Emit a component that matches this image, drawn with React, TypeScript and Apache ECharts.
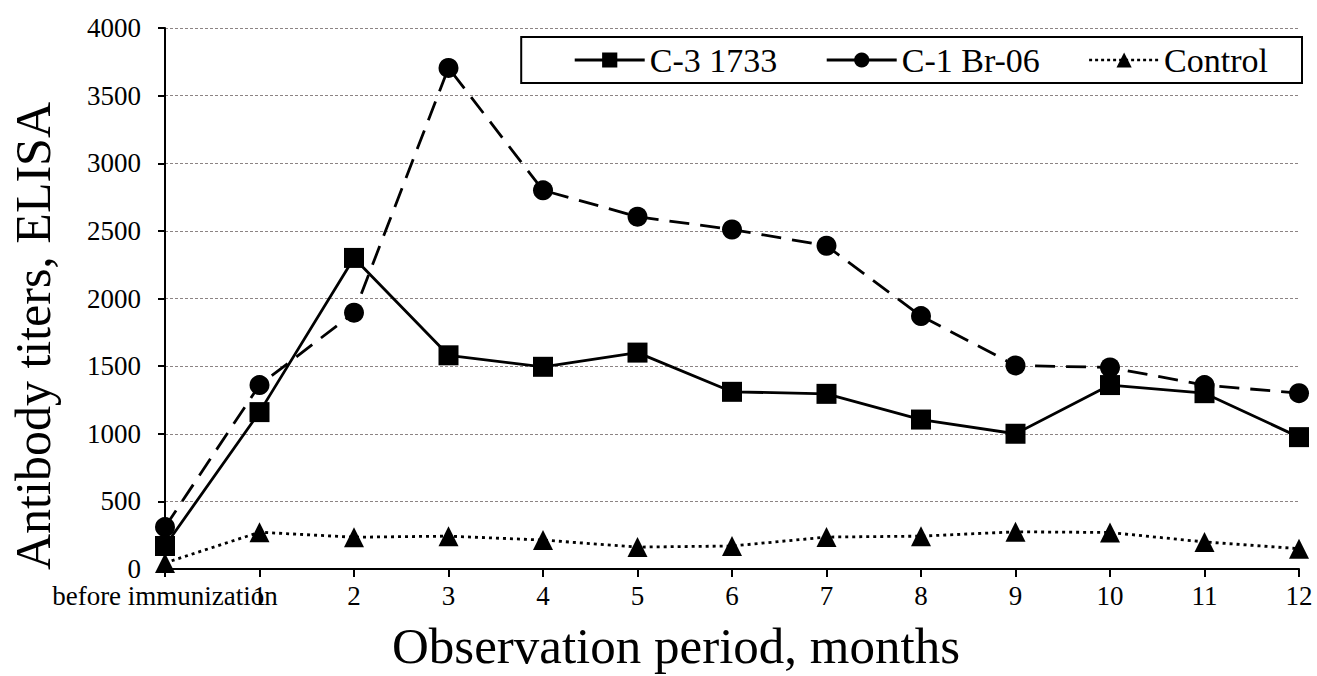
import React, { useEffect, useRef } from "react";
import * as echarts from "echarts";

const categories = ["before immunization", "1", "2", "3", "4", "5", "6", "7", "8", "9", "10", "11", "12"];
const seriesC3 = [170, 1160, 2300, 1580, 1495, 1600, 1310, 1295, 1105, 1000, 1360, 1300, 975];
const seriesC1 = [310, 1360, 1895, 3705, 2800, 2605, 2510, 2390, 1870, 1505, 1490, 1360, 1300];
const seriesControl = [45, 272, 235, 243, 214, 162, 170, 236, 243, 275, 270, 200, 150];
const yTicks = { min: 0, max: 4000, interval: 500 };
const xTitle = "Observation period, months";
const yTitle = "Antibody titers, ELISA";

const FONT = "Liberation Serif";

export default function App() {
  const ref = useRef<HTMLDivElement>(null);
  useEffect(() => {
    if (!ref.current) return;
    const chart = echarts.init(ref.current, undefined, { renderer: "svg" });
    chart.setOption({
      animation: false,
      backgroundColor: "#ffffff",
      textStyle: { fontFamily: FONT },
      grid: { left: 165, right: 18, top: 28, bottom: 107, containLabel: false },
      legend: {
        top: 37,
        right: 15,
        orient: "horizontal",
        itemWidth: 70,
        itemHeight: 19,
        itemGap: 48,
        padding: [6, 34, 6, 52],
        borderColor: "#000",
        borderWidth: 2,
        backgroundColor: "#fff",
        textStyle: { fontFamily: FONT, fontSize: 34, color: "#000" },
        data: [
          { name: "C-3 1733", lineStyle: { type: "solid", width: 3, color: "#000" } },
          { name: "C-1 Br-06", lineStyle: { type: "solid", width: 3, color: "#000" } },
          { name: "Control", lineStyle: { type: [3, 3], width: 2.5, color: "#000" } },
        ],
      },
      xAxis: {
        type: "category",
        data: categories,
        boundaryGap: false,
        axisLine: { lineStyle: { color: "#000", width: 2 } },
        axisTick: { show: true, length: 8, inside: false, alignWithLabel: true, interval: 0, lineStyle: { color: "#000", width: 2 } },
        axisLabel: { interval: 0, color: "#000", fontSize: 27, fontFamily: FONT, margin: 13 },
        splitLine: { show: false },
      },
      yAxis: {
        type: "value",
        min: yTicks.min,
        max: yTicks.max,
        interval: yTicks.interval,
        axisLine: { show: true, lineStyle: { color: "#000", width: 2 } },
        axisTick: { show: true, length: 7, lineStyle: { color: "#000", width: 2 } },
        axisLabel: {
          color: "#000",
          margin: 24,
          fontSize: 27,
          fontFamily: FONT,
          formatter: (v: number) => String(v),
        },
        splitLine: { show: true, lineStyle: { color: "#8c8484", width: 1, type: [3, 2] } },
      },
      graphic: [
        {
          type: "text",
          x: 676,
          y: 646,
          style: { text: xTitle, font: `51px ${FONT}`, fill: "#000", textAlign: "center", textVerticalAlign: "middle" },
        },
        {
          type: "text",
          x: 33,
          y: 336,
          rotation: Math.PI / 2,
          style: { text: yTitle, font: `50px ${FONT}`, fill: "#000", textAlign: "center", textVerticalAlign: "middle" },
        },
      ],
      series: [
        {
          name: "C-3 1733",
          type: "line",
          data: seriesC3,
          symbol: "rect",
          symbolSize: 20,
          itemStyle: { color: "#000" },
          lineStyle: { color: "#000", width: 2.8, type: "solid" },
          z: 3,
        },
        {
          name: "C-1 Br-06",
          type: "line",
          data: seriesC1,
          symbol: "circle",
          symbolSize: 20,
          itemStyle: { color: "#000" },
          lineStyle: { color: "#000", width: 2.8, type: [20, 11] },
          z: 2,
        },
        {
          name: "Control",
          type: "line",
          data: seriesControl,
          symbol: "triangle",
          symbolSize: 20,
          itemStyle: { color: "#000" },
          lineStyle: { color: "#000", width: 2.8, type: [3, 4] },
          z: 2,
        },
      ],
    });
    return () => chart.dispose();
  }, []);
  return (
    <div
      ref={ref}
      style={{ position: "fixed", left: 0, top: 0, width: 1317, height: 676, background: "#fff" }}
    />
  );
}
